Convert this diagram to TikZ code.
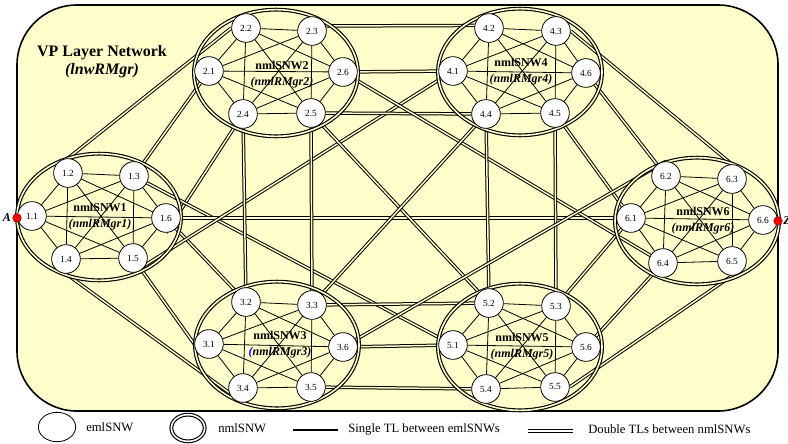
\documentclass[tikz,border=0pt]{standalone}
\usepackage{fontspec}
\setmainfont{Liberation Serif}
\usetikzlibrary{positioning,shapes.geometric}

\definecolor{paleyellow}{RGB}{255,255,204}

\pgfdeclarelayer{back}
\pgfdeclarelayer{links}
\pgfsetlayers{back,links,main}

\tikzset{
  eml/.style={circle, draw, fill=white, line width=0.6pt, minimum size=21.5pt,
    inner sep=0pt, font=\fontsize{7}{8}\selectfont},
  nml/.style={ellipse, draw, line width=0.85pt, double=paleyellow,
    double distance=1.2pt, inner sep=0pt, minimum width=123pt, minimum height=95pt},
  single/.style={line width=0.6pt},
  dbl/.style={line width=0.75pt, double=paleyellow, double distance=1.1pt},
  nwlabel/.style={align=center, font=\fontsize{9}{12}\selectfont\bfseries},
  endpt/.style={circle, fill=red, draw=red!50!black, line width=0.3pt,
    minimum size=6.5pt, inner sep=0pt},
  endlabel/.style={inner sep=0pt, font=\fontsize{9}{10}\selectfont\bfseries\itshape},
  legtext/.style={anchor=west, inner sep=0pt, font=\fontsize{9.5}{11}\selectfont}
}

\begin{document}
\begin{tikzpicture}[x=0.75pt, y=-0.75pt]
  \useasboundingbox (0,0) rectangle (788,443);

  \begin{pgfonlayer}{back}
    \draw[fill=paleyellow, line width=1.2pt, rounded corners=45pt] (17,5) rectangle (778,411);
  \end{pgfonlayer}

  \node[font=\fontsize{12}{13.5}\selectfont\bfseries, align=center] (vp) at (102,62)
    {VP Layer Network\\\textit{(lnwRMgr)}};

  % nmlSNWs
  \node[nml] (nw1) at (99,217) {};
  \node[nml] (nw2) at (276,73) {};
  \node[nml] (nw3) at (277,345) {};
  \node[nml] (nw4) at (520,72) {};
  \node[nml] (nw5) at (520,347) {};
  \node[nml] (nw6) at (697,221) {};

  \node[nwlabel] (l1) at (100,217) {nmlSNW1\\\textit{(nmlRMgr1)}};
  \node[nwlabel] (l2) at (282,75) {nmlSNW2\\\textit{(nmlRMgr2)}};
  \node[nwlabel] (l3) at (280,345) {nmlSNW3\\\textit{\textcolor{blue}{(}nmlRMgr3)}};
  \node[nwlabel] (l4) at (521,72) {nmlSNW4\\\textit{(nmlRMgr4)}};
  \node[nwlabel] (l5) at (522,347) {nmlSNW5\\\textit{(nmlRMgr5)}};
  \node[nwlabel] (l6) at (703,221) {nmlSNW6\\\textit{(nmlRMgr6)}};

  % emlSNWs
  \node[eml] (e11) at (32,216) {1.1};
  \node[eml] (e12) at (68,173) {1.2};
  \node[eml] (e13) at (134,176) {1.3};
  \node[eml] (e14) at (66,259) {1.4};
  \node[eml] (e15) at (133,258) {1.5};
  \node[eml] (e16) at (166,218) {1.6};

  \node[eml] (e21) at (209,71) {2.1};
  \node[eml] (e22) at (246,28) {2.2};
  \node[eml] (e23) at (312,31) {2.3};
  \node[eml] (e24) at (243,114) {2.4};
  \node[eml] (e25) at (311,113) {2.5};
  \node[eml] (e26) at (343,72) {2.6};

  \node[eml] (e31) at (209,344) {3.1};
  \node[eml] (e32) at (246,302) {3.2};
  \node[eml] (e33) at (312,305) {3.3};
  \node[eml] (e34) at (243,388) {3.4};
  \node[eml] (e35) at (311,387) {3.5};
  \node[eml] (e36) at (343,347) {3.6};

  \node[eml] (e41) at (453,71) {4.1};
  \node[eml] (e42) at (489,28) {4.2};
  \node[eml] (e43) at (556,31) {4.3};
  \node[eml] (e44) at (486,114) {4.4};
  \node[eml] (e45) at (555,113) {4.5};
  \node[eml] (e46) at (586,73) {4.6};

  \node[eml] (e51) at (453,345) {5.1};
  \node[eml] (e52) at (489,303) {5.2};
  \node[eml] (e53) at (556,306) {5.3};
  \node[eml] (e54) at (486,389) {5.4};
  \node[eml] (e55) at (555,387) {5.5};
  \node[eml] (e56) at (586,347) {5.6};

  \node[eml] (e61) at (631,218) {6.1};
  \node[eml] (e62) at (666,176) {6.2};
  \node[eml] (e63) at (732,179) {6.3};
  \node[eml] (e64) at (663,263) {6.4};
  \node[eml] (e65) at (732,261) {6.5};
  \node[eml] (e66) at (763,220) {6.6};

  % end points
  \node[endpt] (pa) at (17,218) {};
  \node[endlabel, left=1pt of pa] (la) {A};
  \node[endpt] (pz) at (778,221) {};
  \node[endlabel, right=0.5pt of pz] (lz) {Z};

  \begin{pgfonlayer}{links}
    % single TLs inside each nmlSNW
    \foreach \k in {1,...,6}
      \foreach \i/\j in {1/2,1/3,1/4,1/5,1/6,2/3,2/4,2/5,2/6,3/4,3/5,3/6,4/5,4/6,5/6}
        \draw[single] (e\k\i) -- (e\k\j);

    % double TLs between nmlSNWs
    \draw[dbl] (e12.north) -- (e22.west);
    \draw[dbl] (e13) -- (e21);
    \draw[dbl] (e16.south) -- (e24);
    \draw[dbl] (e13) -- (e51);
    \draw[dbl] (e16) -- (e61);
    \draw[dbl] (e16) -- (e32);
    \draw[dbl] (e15.south) -- (e41);
    \draw[dbl] (e15) -- (e31.west);
    \draw[dbl] (e14.south) -- (e34.south);
    \draw[dbl] (e23.20) -- (e42.170);
    \draw[dbl] (e26) -- (e41);
    \draw[dbl] (e25) -- (e44);
    \draw[dbl] (e26) -- (e64);
    \draw[dbl] (e25) -- (e52);
    \draw[dbl] (e24) -- (e32);
    \draw[dbl] (e25) -- (e33);
    \draw[dbl] (e44) -- (e33);
    \draw[dbl] (e44) -- (e52);
    \draw[dbl] (e45) -- (e53);
    \draw[dbl] (e45) -- (e61);
    \draw[dbl] (e46) -- (e62);
    \draw[dbl] (e43.east) -- (e63.north);
    \draw[dbl] (e33) -- (e52);
    \draw[dbl] (e36) -- (e51);
    \draw[dbl] (e35) -- (e54);
    \draw[dbl] (e36) -- (e62.north);
    \draw[dbl] (e53) -- (e61);
    \draw[dbl] (e56) -- (e64);
    \draw[dbl] (e55.east) -- (e65.south);
  \end{pgfonlayer}

  % legend
  \node[ellipse, draw, line width=0.6pt, minimum width=28pt, minimum height=22pt] (kem) at (57,427) {};
  \node[legtext] (tem) at (86,427) {emlSNW};
  \node[nml, double=white, minimum width=25pt, minimum height=20pt] (knm) at (188,428) {};
  \node[legtext] (tnm) at (218,428) {nmlSNW};
  \coordinate (s1) at (293,430);
  \coordinate (s2) at (338,430);
  \draw[line width=1.5pt] (s1) -- (s2);
  \node[legtext] (tst) at (348,429) {Single TL between emlSNWs};
  \coordinate (d1) at (528,431);
  \coordinate (d2) at (573,431);
  \draw[line width=1.1pt, double=white, double distance=1.2pt] (d1) -- (d2);
  \node[legtext] (tdt) at (588,429) {Double TLs between nmlSNWs};
\end{tikzpicture}
\end{document}
